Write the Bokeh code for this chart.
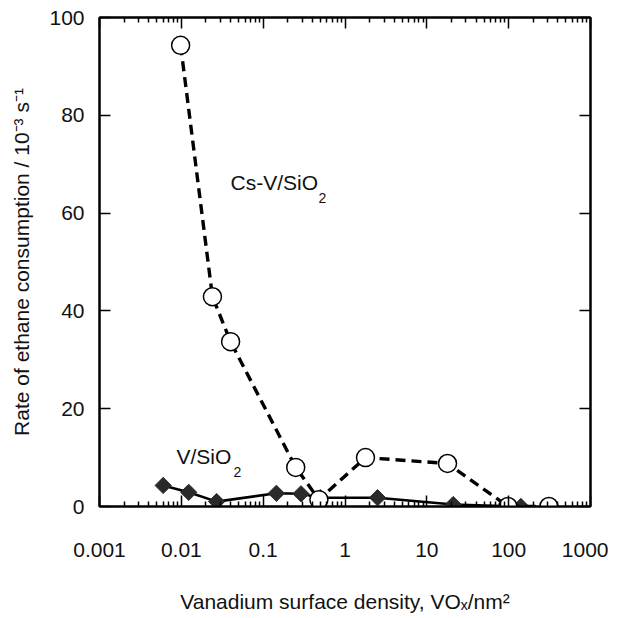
from bokeh.plotting import figure
from bokeh.models import LinearAxis, LogAxis, FixedTicker, Label, CustomJSTickFormatter
from bokeh.embed import file_html
from bokeh.resources import INLINE

# ---- data ----
cs_x = [0.0098, 0.024, 0.040, 0.25, 0.48, 1.78, 17.9, 98, 310]
cs_y = [94.3, 42.9, 33.7, 8.0, 1.4, 10.0, 8.8, 0.0, 0.0]

v_x = [0.0060, 0.0123, 0.027, 0.145, 0.29, 0.50, 2.5, 21, 141]
v_y = [4.3, 2.9, 1.0, 2.7, 2.6, 1.8, 1.8, 0.4, 0.0]

x_major = [0.001, 0.01, 0.1, 1, 10, 100, 1000]
y_major = [0, 20, 40, 60, 80, 100]

FONT = "Liberation Sans"

x_minor = [k * m for m in x_major[:-1] for k in range(2, 10)]

p = figure(width=608, height=618, x_axis_type="log",
           x_range=(0.001, 1000), y_range=(0, 100),
           output_backend="svg", toolbar_location=None,
           min_border_left=99, min_border_right=18,
           min_border_top=17, min_border_bottom=112)
p.xgrid.visible = False
p.ygrid.visible = False
p.outline_line_color = "black"
p.outline_line_width = 2
p.background_fill_color = "white"
p.border_fill_color = "white"

fmt = CustomJSTickFormatter(code="return String(parseFloat(tick.toPrecision(6)));")


def style(ax, labels=True):
    ax.axis_line_width = 2
    ax.axis_line_color = "black"
    ax.major_tick_in = 11
    ax.major_tick_out = 0
    ax.minor_tick_in = 5
    ax.minor_tick_out = 0
    ax.major_tick_line_width = 1.5
    ax.minor_tick_line_width = 1.5
    ax.major_tick_line_color = "black"
    ax.minor_tick_line_color = "black"
    ax.major_label_text_font = FONT
    ax.axis_label_text_font = FONT
    ax.axis_label_text_font_style = "normal"
    ax.axis_label_text_color = "#111111"
    ax.major_label_text_color = "#111111"
    if not labels:
        ax.major_label_text_font_size = "0px"
        ax.major_label_text_alpha = 0
        ax.major_label_standoff = 0


xb = p.xaxis[0]
style(xb)
xb.ticker = FixedTicker(ticks=x_major, minor_ticks=x_minor)
xb.formatter = fmt
xb.major_label_text_font_size = "21px"
xb.major_label_standoff = 36
xb.axis_label = "Vanadium surface density, VOₓ/nm²"
xb.axis_label_text_font_size = "21px"
xb.axis_label_standoff = 30

yl = p.yaxis[0]
style(yl)
yl.ticker = FixedTicker(ticks=y_major, minor_ticks=[])
yl.major_label_text_font_size = "21px"
yl.major_label_standoff = 15
yl.axis_label = "Rate of ethane consumption / 10⁻³ s⁻¹"
yl.axis_label_text_font_size = "21px"
yl.axis_label_standoff = 13

top = LogAxis(ticker=FixedTicker(ticks=x_major, minor_ticks=x_minor), formatter=fmt)
style(top, labels=False)
p.add_layout(top, "above")

right = LinearAxis(ticker=FixedTicker(ticks=y_major, minor_ticks=[]))
style(right, labels=False)
p.add_layout(right, "right")

# V/SiO2 : solid line, dark diamonds
p.line(v_x, v_y, line_color="black", line_width=2.6)
p.scatter(v_x, v_y, marker="square", angle=0.785398, size=11.5,
          fill_color="#2a2a2a", line_color="#2a2a2a", line_width=1)

# Cs-V/SiO2 : dashed line, open circles
p.line(cs_x, cs_y, line_color="black", line_width=3.4, line_dash="10 6")
p.scatter(cs_x, cs_y, marker="circle", size=18,
          fill_color="white", line_color="black", line_width=1.5)

# series labels
p.add_layout(Label(x=0.04, y=64, text="Cs-V/SiO", text_font=FONT,
                   text_font_size="21px", text_color="#111111"))
p.add_layout(Label(x=0.04, y=64, x_offset=88, y_offset=-9, text="2", text_font=FONT,
                   text_font_size="14px", text_color="#111111"))
p.add_layout(Label(x=0.0087, y=7.8, text="V/SiO", text_font=FONT,
                   text_font_size="21px", text_color="#111111"))
p.add_layout(Label(x=0.0087, y=7.8, x_offset=57, y_offset=-9, text="2", text_font=FONT,
                   text_font_size="14px", text_color="#111111"))

open("out.html", "w").write(file_html(p, INLINE))
